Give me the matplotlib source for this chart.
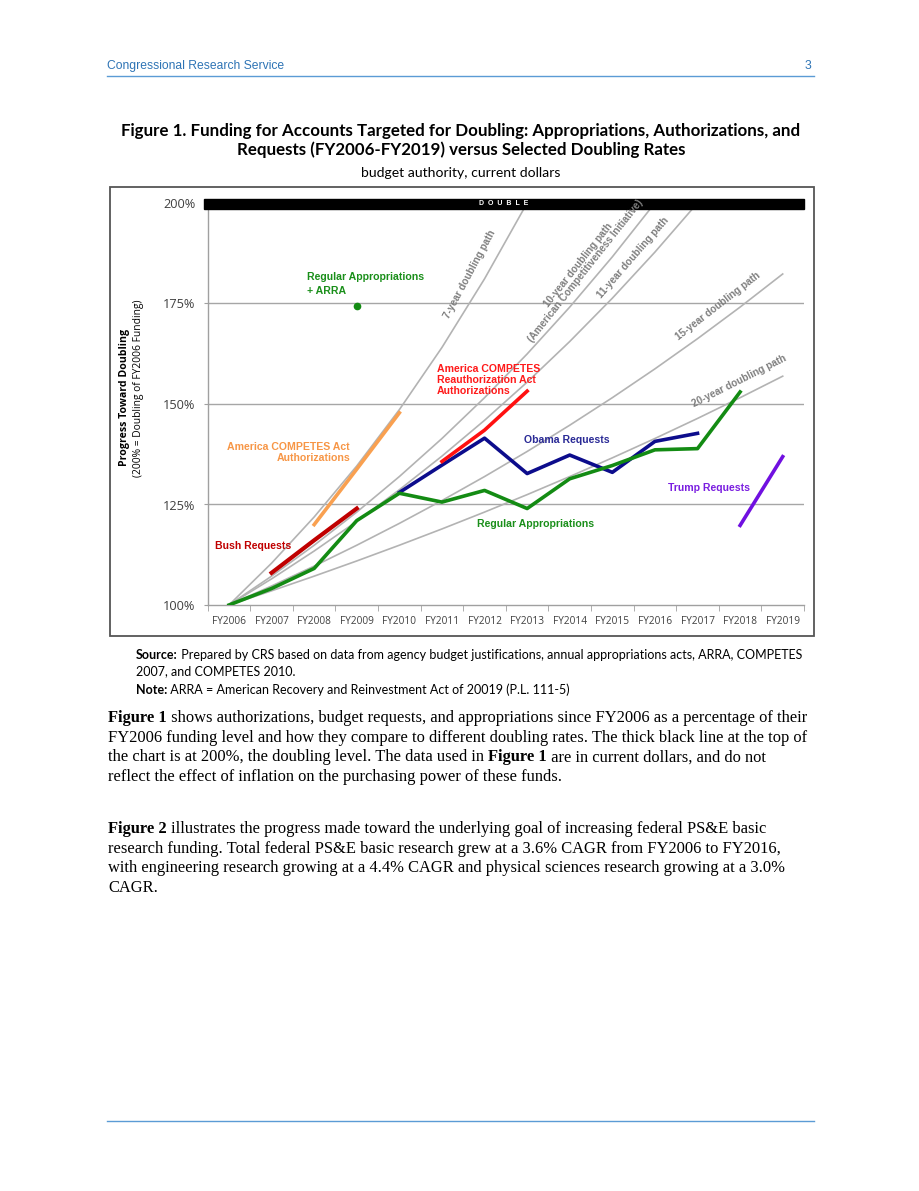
import numpy as np
import matplotlib
matplotlib.use("Agg")
import matplotlib.pyplot as plt

W, H = 920, 1191

years = ["FY2006", "FY2007", "FY2008", "FY2009", "FY2010", "FY2011", "FY2012",
         "FY2013", "FY2014", "FY2015", "FY2016", "FY2017", "FY2018", "FY2019"]
yticks = [100, 125, 150, 175, 200]

regular_x = list(range(0, 13))
regular = [100, 104.1, 109.1, 121.0, 127.8, 125.6, 128.5, 124.0, 131.4, 134.7, 138.6, 138.9, 153.0]
arra_x = [3]
arra = [174.3]
obama_x = [4, 5, 6, 7, 8, 9, 10, 11]
obama = [128.0, 134.8, 141.5, 132.7, 137.3, 133.0, 140.7, 142.7]
reauth_x = [5, 6, 7]
reauth = [135.7, 143.5, 153.2]
bush_x = [1, 2, 3]
bush = [108.0, 116.1, 124.0]
competes_x = [2, 3, 4]
competes = [120.0, 133.8, 147.8]
trump_x = [12, 13]
trump = [119.8, 136.9]
doubling_years = [7, 10, 11, 15, 20]


def px(x, y):
    return x / W, 1 - y / H


fig = plt.figure(figsize=(W / 100, H / 100), dpi=100)

# page header / footer
fig.text(*px(107, 66), "Congressional Research Service", color="#2e74b5",
         family="Liberation Sans", fontsize=8.7, va="center")
fig.text(*px(811, 66), "3", color="#2e74b5", family="Liberation Sans",
         fontsize=8.7, va="center", ha="right")
fig.add_artist(plt.Line2D([107 / W, 814 / W], [1 - 76 / H] * 2, color="#5b9bd5", lw=1))
fig.add_artist(plt.Line2D([107 / W, 814 / W], [1 - 1121 / H] * 2, color="#5b9bd5", lw=1))

# figure title
fig.text(*px(461, 131), "Figure 1. Funding for Accounts Targeted for Doubling: Appropriations, Authorizations, and",
         family="Lato", weight="bold", fontsize=12.2, ha="center", va="center")
fig.text(*px(461, 150), "Requests (FY2006-FY2019) versus Selected Doubling Rates",
         family="Lato", weight="bold", fontsize=12.2, ha="center", va="center")
fig.text(*px(461, 173), "budget authority, current dollars",
         family="Lato", fontsize=10.1, ha="center", va="center")

# chart box
box = plt.Rectangle((110 / W, 1 - 636 / H), 704 / W, 449 / H, transform=fig.transFigure,
                    fill=False, edgecolor="#555555", lw=1.3)
fig.add_artist(box)

ax = fig.add_axes([207.7 / W, 1 - 605 / H, (804 - 207.7) / W, (605 - 203) / H])
ax.set_xlim(-0.5, 13.5)
ax.set_ylim(100, 200)
for s in ["top", "right"]:
    ax.spines[s].set_visible(False)
for s in ["left", "bottom"]:
    ax.spines[s].set_color("#a0a0a0")
    ax.spines[s].set_linewidth(1)
ax.set_yticks(yticks)
ax.set_yticklabels([f"{v}%" for v in yticks])
ax.set_xticks(range(len(years)))
ax.set_xticklabels(years)
ax.set_xticks(np.arange(-0.5, 14, 1), minor=True)
ax.tick_params(axis="x", which="major", length=0, pad=8, labelsize=7.3, labelcolor="#404040")
ax.tick_params(axis="x", which="minor", length=4, color="#a0a0a0", direction="out")
ax.tick_params(axis="y", length=3, color="#a0a0a0", labelsize=9.2, labelcolor="#404040", pad=6)
for lab in ax.get_xticklabels() + ax.get_yticklabels():
    lab.set_family("Open Sans")
for v in [125, 150, 175]:
    ax.axhline(v, color="#a6a6a6", lw=1, zorder=1)
ax.axhspan(198.6, 201.1, xmin=-0.007, color="black", zorder=5, clip_on=False)
ax.text(6.46, 199.85, "D  O  U  B  L  E", color="white", fontsize=5, weight="bold",
        ha="center", va="center", zorder=6, family="Liberation Sans")

# doubling paths
t = np.arange(14)
for n in doubling_years:
    vals = 100 * 2 ** (t / n)
    keep = vals <= 200.5
    ax.plot(t[keep], vals[keep], color="#b3b3b3", lw=1.2, zorder=2)

path_labels = [
    (470, 274, "7-year doubling path", 7, 7.5),
    (582, 268, "10-year doubling path\n(American Competitiveness Initiative)", 10, 10.0),
    (633, 258, "11-year doubling path", 11, 11.0),
    (718, 306, "15-year doubling path", 15, 13.0),
    (739, 381, "20-year doubling path", 20, 13.0),
]
for x, y, txt, n, tc in path_labels:
    p0 = ax.transData.transform((tc - 1, 100 * 2 ** ((tc - 1) / n)))
    p1 = ax.transData.transform((tc, 100 * 2 ** (tc / n)))
    ang = np.degrees(np.arctan2(p1[1] - p0[1], p1[0] - p0[0]))
    fig.text(*px(x, y), txt, rotation=ang, color="#7f7f7f", fontsize=7.2,
             weight="bold", ha="center", va="center", family="Liberation Sans",
             linespacing=0.95, rotation_mode="anchor")

lw = 2.6
ax.plot(regular_x, regular, color="#138b13", lw=lw, zorder=4)
ax.plot(arra_x, arra, "o", color="#138b13", ms=4.5, zorder=4)
ax.plot(obama_x, obama, color="#0c0c8c", lw=lw, zorder=3)
ax.plot(reauth_x, reauth, color="#ff1010", lw=lw, zorder=3)
ax.plot(bush_x, bush, color="#c00000", lw=lw + 0.4, zorder=3)
ax.plot(competes_x, competes, color="#f9a050", lw=lw, zorder=3)
ax.plot(trump_x, trump, color="#7010e0", lw=lw, zorder=3)

lab = dict(family="Liberation Sans", weight="bold", fontsize=7.6, va="center")
fig.text(*px(307, 284), "Regular Appropriations\n+ ARRA", color="#1a8f1a", linespacing=1.45, **lab)
fig.text(*px(437, 380), "America COMPETES\nReauthorization Act\nAuthorizations", color="#ff1a1a",
         linespacing=1.12, **lab)
fig.text(*px(350, 452.5), "America COMPETES Act\nAuthorizations", color="#f79646", ha="right",
         linespacing=1.1, **lab)
fig.text(*px(215, 546), "Bush Requests", color="#c00000", **lab)
fig.text(*px(524, 440), "Obama Requests", color="#2a2a96", **lab)
fig.text(*px(477, 524), "Regular Appropriations", color="#1a8f1a", **lab)
fig.text(*px(668, 488), "Trump Requests", color="#7a1ee0", **lab)

# y axis title
fig.text(*px(124, 397), "Progress Toward Doubling", rotation=90, family="Open Sans",
         weight="bold", fontsize=7.6, ha="center", va="center")
fig.text(*px(139, 388), "(200% = Doubling of FY2006 Funding)", rotation=90, family="Open Sans",
         fontsize=7.4, ha="center", va="center")

fig.canvas.draw()
renderer = fig.canvas.get_renderer()


def draw_line(x, y, parts, style):
    # parts: list of (text, bold)
    for txt, bold in parts:
        t_ = fig.text(*px(x, y), txt, weight="bold" if bold else "normal", **style)
        bb = t_.get_window_extent(renderer)
        x += bb.width


# source / note
src = dict(family="Lato", fontsize=9.0, va="center")
draw_line(136, 655, [("Source:", True), (" Prepared by CRS based on data from agency budget justifications, annual appropriations acts, ARRA, COMPETES", False)], src)
draw_line(136, 671, [("2007, and COMPETES 2010.", False)], src)
draw_line(136, 690, [("Note:", True), (" ARRA = American Recovery and Reinvestment Act of 20019 (P.L. 111-5)", False)], src)

body = dict(family="Liberation Serif", fontsize=11.9, va="center")
para1 = [
    [("Figure 1", True), (" shows authorizations, budget requests, and appropriations since FY2006 as a percentage of their", False)],
    [("FY2006 funding level and how they compare to different doubling rates. The thick black line at the top of", False)],
    [("the chart is at 200%, the doubling level. The data used in ", False), ("Figure 1", True),
     (" are in current dollars, and do not", False)],
    [("reflect the effect of inflation on the purchasing power of these funds.", False)],
]
para2 = [
    [("Figure 2", True), (" illustrates the progress made toward the underlying goal of increasing federal PS&E basic", False)],
    [("research funding. Total federal PS&E basic research grew at a 3.6% CAGR from FY2006 to FY2016,", False)],
    [("with engineering research growing at a 4.4% CAGR and physical sciences research growing at a 3.0%", False)],
    [("CAGR.", False)],
]

y = 718
for parts in para1:
    draw_line(108, y, parts, body)
    y += 19.7
y = 829
for parts in para2:
    draw_line(108, y, parts, body)
    y += 19.7

fig.savefig("out.png", dpi=100)
